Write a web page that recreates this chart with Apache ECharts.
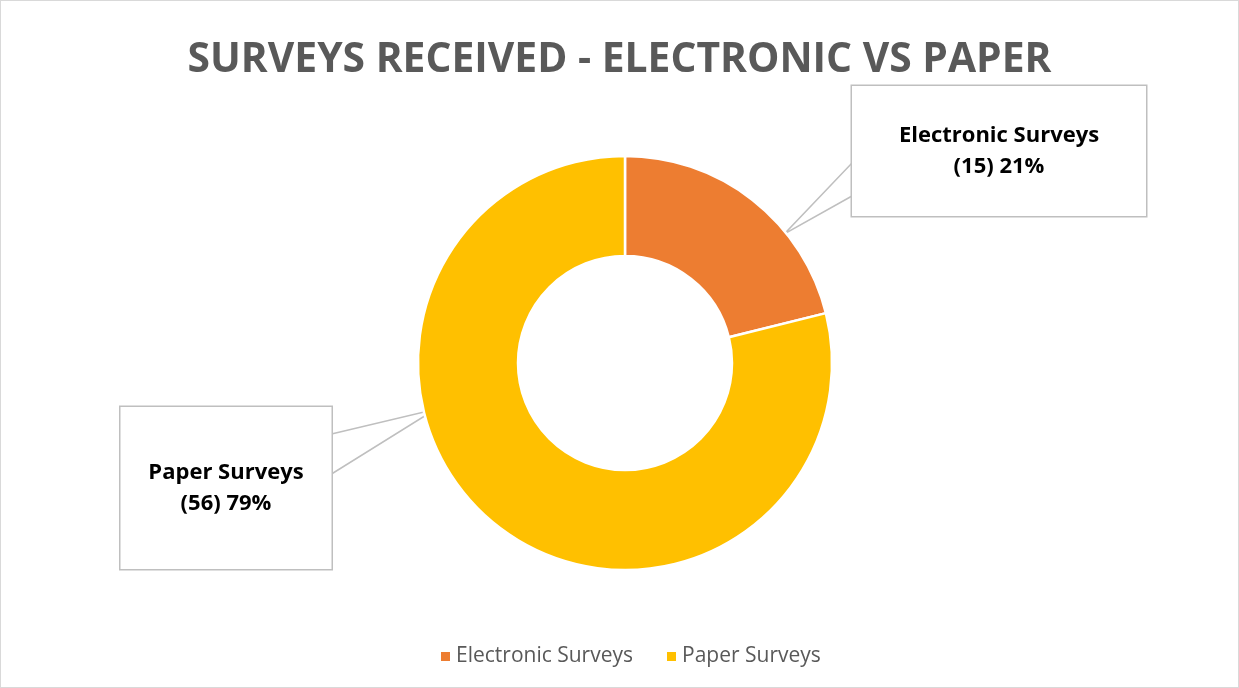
<!DOCTYPE html>
<html>
<head>
<meta charset="utf-8">
<script src="https://cdn.jsdelivr.net/npm/echarts@6/dist/echarts.min.js"></script>
<style>
html,body{margin:0;padding:0;background:#fff;}
#wrap{position:absolute;left:0;top:0;width:1237px;height:686px;border:1px solid #d9d9d9;}
#chart{width:1237px;height:686px;}
</style>
</head>
<body>
<div id="wrap"><div id="chart"></div></div>
<script>
const titleText = 'SURVEYS RECEIVED - ELECTRONIC VS PAPER';
const categories = ['Electronic Surveys', 'Paper Surveys'];
const values = [15, 56];
const colors = ['#ED7D31', '#FFC000'];

const total = values.reduce((a, b) => a + b, 0);
const CX = 624, CY = 362;
// callout box layout (style only)
const callouts = [
  { width: 294, padV: 34, cx: 998, cy: 150, side: 'left', b1: 12, b2: 45, tipAngle: 51, tipR: 205 },
  { width: 211, padV: 50, cx: 225, cy: 487, side: 'right', b1: -54, b2: -14, tipAngle: 256.3, tipR: 195 }
];

const chart = echarts.init(document.getElementById('chart'));
const option = {
  animation: false,
  title: {
    text: titleText,
    left: 'center',
    top: 34,
    textStyle: { fontFamily: 'Open Sans', fontWeight: 'bold', fontSize: 40.8, color: '#595959' }
  },
  legend: {
    bottom: 15,
    left: 433,
    itemWidth: 11,
    itemHeight: 11,
    itemGap: 32,
    icon: 'rect',
    data: categories,
    textStyle: { fontFamily: 'Open Sans', fontSize: 21, color: '#595959' }
  },
  series: [{
    type: 'pie',
    center: [CX, CY],
    radius: [107, 207],
    startAngle: 90,
    clockwise: true,
    avoidLabelOverlap: false,
    itemStyle: { borderColor: '#fff', borderWidth: 2.5 },
    labelLine: { show: true, lineStyle: { color: '#bfbfbf', width: 1.5 }, length: 20, length2: 20 },
    data: categories.map((c, i) => ({
      name: c,
      value: values[i],
      itemStyle: { color: colors[i] },
      label: {
        show: true,
        position: 'outside',
        formatter: () => c + '\n(' + values[i] + ') ' + Math.round(values[i] / total * 100) + '%',
        fontFamily: 'Open Sans',
        fontWeight: 'bold',
        fontSize: 22,
        lineHeight: 31,
        color: '#000',
        align: 'center',
        width: callouts[i].width,
        padding: [callouts[i].padV, 0, callouts[i].padV, 0],
        backgroundColor: '#fff',
        borderColor: '#bfbfbf',
        borderWidth: 1.5
      }
    })),
    labelLayout: (params) => {
      const b = callouts[params.dataIndex];
      const edgeX = b.side === 'left' ? b.cx - b.width / 2 : b.cx + b.width / 2;
      const a = b.tipAngle * Math.PI / 180;
      const tip = [CX + Math.sin(a) * b.tipR, CY - Math.cos(a) * b.tipR];
      return {
        x: b.cx, y: b.cy, align: 'center', verticalAlign: 'middle',
        labelLinePoints: [[edgeX, b.cy + b.b1], tip, [edgeX, b.cy + b.b2]]
      };
    }
  }]
};
chart.setOption(option);
</script>
</body>
</html>
